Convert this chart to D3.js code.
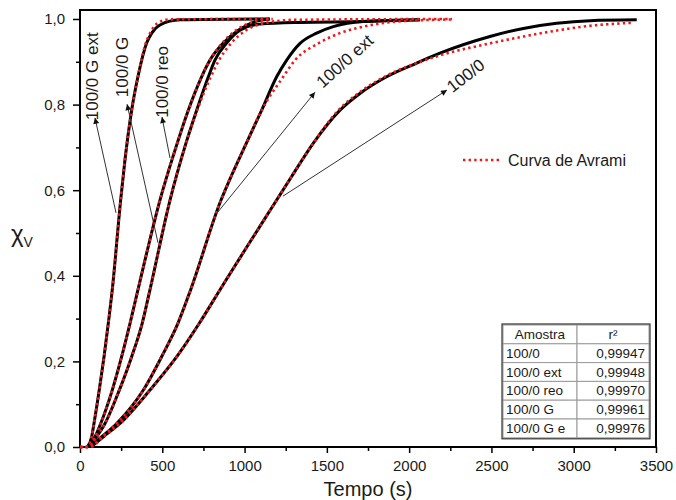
<!DOCTYPE html>
<html>
<head>
<meta charset="utf-8">
<script src="https://cdn.jsdelivr.net/npm/d3@7"></script>
<style>
  body { margin: 0; background: #fff; }
  text { font-family: Arial, "Liberation Sans", sans-serif; fill: #1a1a1a; }
</style>
</head>
<body>
<svg id="chart" width="676" height="500"></svg>
<script>
// Crystallised fraction vs time, measured curves (black) and Avrami fits (red)
const samples = ["100/0", "100/0 ext", "100/0 reo", "100/0 G", "100/0 G e"];
const r2 = ["0,99947", "0,99948", "0,99970", "0,99961", "0,99976"];

// measured curves: time (s) and fraction
const tGExt = [45, 71, 85, 117, 146, 172, 196, 247, 273, 314, 352, 405, 436, 486, 608, 1150];
const vGExt = [0, 0.024, 0.055, 0.133, 0.211, 0.289, 0.367, 0.577, 0.67, 0.787, 0.865, 0.944, 0.967, 0.986, 0.998, 1.0];
const tG = [50, 91, 126, 196, 253, 304, 352, 486, 591, 658, 739, 790, 871, 962, 1073, 1155];
const vG = [0, 0.024, 0.055, 0.133, 0.211, 0.289, 0.367, 0.577, 0.71, 0.787, 0.865, 0.904, 0.944, 0.974, 0.995, 1.0];
const tReo = [55, 101, 152, 239, 314, 378, 425, 547, 644, 709, 780, 820, 891, 972, 1094, 1337, 1720, 2066];
const vReo = [0, 0.024, 0.055, 0.133, 0.211, 0.289, 0.367, 0.577, 0.71, 0.787, 0.865, 0.904, 0.944, 0.974, 0.988, 0.992, 0.994, 0.998];
const tExt = [60, 132, 223, 385, 496, 595, 672, 857, 918, 1011, 1104, 1195, 1256, 1337, 1438, 1539, 1720, 2066];
const vExt = [0, 0.024, 0.055, 0.133, 0.211, 0.289, 0.367, 0.577, 0.632, 0.71, 0.787, 0.865, 0.904, 0.943, 0.967, 0.982, 0.994, 0.998];
const tBase = [65, 142, 243, 425, 588, 725, 850, 1195, 1286, 1418, 1580, 1701, 1863, 2046, 2187, 2491, 2694, 2897, 3099, 3383];
const vBase = [0, 0.024, 0.055, 0.133, 0.211, 0.289, 0.367, 0.577, 0.632, 0.71, 0.787, 0.826, 0.865, 0.897, 0.92, 0.959, 0.978, 0.99, 0.996, 0.998];

// Avrami fits
const tFitGExt = [0, 40, 71, 85, 117, 146, 172, 196, 247, 273, 314, 352, 400, 430, 470, 540, 1170];
const vFitGExt = [0, 0, 0.024, 0.055, 0.133, 0.211, 0.289, 0.367, 0.577, 0.67, 0.787, 0.865, 0.944, 0.97, 0.99, 0.999, 1.0];
const tFitG = [0, 45, 91, 126, 196, 253, 304, 352, 486, 591, 658, 739, 790, 865, 950, 1050, 1170];
const vFitG = [0, 0, 0.024, 0.055, 0.133, 0.211, 0.289, 0.367, 0.577, 0.71, 0.787, 0.865, 0.904, 0.944, 0.974, 0.993, 1.0];
const tFitReo = [0, 50, 101, 152, 239, 314, 378, 425, 547, 644, 712, 795, 845, 920, 1010, 1120, 1300, 2260];
const vFitReo = [0, 0, 0.024, 0.055, 0.133, 0.211, 0.289, 0.367, 0.577, 0.71, 0.787, 0.865, 0.904, 0.944, 0.974, 0.99, 0.998, 1.0];
const tFitExt = [0, 55, 132, 223, 385, 496, 595, 672, 857, 918, 1011, 1104, 1235, 1307, 1448, 1580, 1720, 1924, 2260];
const vFitExt = [0, 0, 0.024, 0.055, 0.133, 0.211, 0.289, 0.367, 0.577, 0.632, 0.71, 0.787, 0.865, 0.904, 0.943, 0.967, 0.982, 0.994, 0.999];
const tFitBase = [0, 60, 142, 243, 425, 588, 725, 850, 1195, 1286, 1418, 1570, 1690, 1850, 2046, 2187, 2491, 2694, 2897, 3099, 3352];
const vFitBase = [0, 0, 0.024, 0.055, 0.133, 0.211, 0.289, 0.367, 0.577, 0.632, 0.71, 0.787, 0.826, 0.865, 0.897, 0.915, 0.943, 0.959, 0.973, 0.984, 0.991];

const xTicks = [0, 500, 1000, 1500, 2000, 2500, 3000, 3500];
const yTicks = [0, 0.2, 0.4, 0.6, 0.8, 1.0];

// curve labels with arrows
const labels = ["100/0 G ext", "100/0 G", "100/0 reo", "100/0 ext", "100/0"];
const labelT = [76, 258, 501, 1610, 2345];
const labelV = [0.866, 0.888, 0.853, 0.901, 0.867];
const labelAngle = [-90, -90, -90, -42, -38];
const arrowTailT = [219, 474, 547, 838, 1233];
const arrowTailV = [0.547, 0.477, 0.675, 0.549, 0.586];
const arrowHeadT = [91, 286, 498, 1428, 2230];
const arrowHeadV = [0.769, 0.801, 0.771, 0.829, 0.834];

const svg = d3.select("#chart");
const L = 80, R = 656, T = 10, B = 447;
const x = d3.scaleLinear().domain([0, 3500]).range([L, R]);
const y = d3.scaleLinear().domain([0, 1.021]).range([B, T]);

const comma = d => d3.format(".1f")(d).replace(".", ",");

// axes
svg.append("g").attr("transform", `translate(0,${B})`)
  .call(d3.axisBottom(x).tickValues(xTicks).tickSize(6).tickPadding(7).tickFormat(d3.format("d")));
svg.append("g").attr("transform", `translate(0,${B})`)
  .call(d3.axisBottom(x).tickValues(d3.range(250, 3500, 500)).tickSize(4).tickFormat(""));
svg.append("g").attr("transform", `translate(${L},0)`)
  .call(d3.axisLeft(y).tickValues(yTicks).tickSize(7).tickPadding(8).tickFormat(comma));
svg.append("g").attr("transform", `translate(${L},0)`)
  .call(d3.axisLeft(y).tickValues([0.1, 0.3, 0.5, 0.7, 0.9]).tickSize(4).tickFormat(""));
svg.selectAll(".domain").remove();
svg.selectAll(".tick line").attr("stroke", "#000").attr("stroke-width", 1.5);
svg.selectAll(".tick text").style("font-size", "15px").attr("fill", "#1a1a1a");

// frame
svg.append("rect").attr("x", L).attr("y", T).attr("width", R - L).attr("height", B - T)
  .attr("fill", "none").attr("stroke", "#000").attr("stroke-width", 2);

// axis titles
svg.append("text").attr("x", (L + R) / 2).attr("y", 496).attr("text-anchor", "middle")
  .style("font-size", "20px").text("Tempo (s)");
const yt = svg.append("text").attr("x", 11).attr("y", 242).style("font-size", "24px");
yt.append("tspan").text("χ");
yt.append("tspan").attr("dy", 5).style("font-size", "14px").text("V");

// curves
const line = d3.line().x(d => x(d[0])).y(d => y(d[1])).curve(d3.curveMonotoneX);
const zip = (t, v) => t.map((d, i) => [d, v[i]]);
const measured = [zip(tBase, vBase), zip(tExt, vExt), zip(tReo, vReo), zip(tG, vG), zip(tGExt, vGExt)];
const fits = [zip(tFitBase, vFitBase), zip(tFitExt, vFitExt), zip(tFitReo, vFitReo), zip(tFitG, vFitG), zip(tFitGExt, vFitGExt)];

svg.append("g").selectAll("path").data(measured).join("path")
  .attr("d", line).attr("fill", "none").attr("stroke", "#000").attr("stroke-width", 3);
svg.append("g").selectAll("path").data(fits).join("path")
  .attr("d", line).attr("fill", "none").attr("stroke", "#f01818").attr("stroke-width", 2.6)
  .attr("stroke-dasharray", "2.4 3.2");

// arrows
svg.append("defs").append("marker").attr("id", "head")
  .attr("viewBox", "0 0 10 10").attr("refX", 10).attr("refY", 5)
  .attr("markerWidth", 10).attr("markerHeight", 6).attr("markerUnits", "userSpaceOnUse")
  .attr("orient", "auto")
  .append("path").attr("d", "M0,0 L10,5 L0,10 Z").attr("fill", "#111");

const ga = svg.append("g");
labels.forEach((lab, i) => {
  ga.append("line")
    .attr("x1", x(arrowTailT[i])).attr("y1", y(arrowTailV[i]))
    .attr("x2", x(arrowHeadT[i])).attr("y2", y(arrowHeadV[i]))
    .attr("stroke", "#333").attr("stroke-width", 1).attr("marker-end", "url(#head)");
  ga.append("text")
    .attr("transform", `translate(${x(labelT[i])},${y(labelV[i])}) rotate(${labelAngle[i]})`)
    .attr("text-anchor", "middle").attr("dominant-baseline", "central")
    .style("font-size", "17px").text(lab);
});

// legend
const lgY = 160;
svg.append("line").attr("x1", 463).attr("x2", 502).attr("y1", lgY).attr("y2", lgY)
  .attr("stroke", "#f01818").attr("stroke-width", 2.6).attr("stroke-dasharray", "2.4 3.2");
svg.append("text").attr("x", 508).attr("y", lgY + 6).style("font-size", "16px").text("Curva de Avrami");

// r² table
const tx0 = 503, tx1 = 577, tx2 = 649, ty0 = 325, rowH = 18.8;
const tg = svg.append("g");
const rows = [["Amostra", "r²"]].concat(samples.map((s, i) => [s, r2[i]]));
rows.forEach((r, i) => {
  const yy = ty0 + i * rowH;
  tg.append("rect").attr("x", tx0).attr("y", yy).attr("width", tx1 - tx0).attr("height", rowH)
    .attr("fill", "#fff").attr("stroke", "#9a9a9a").attr("stroke-width", 1);
  tg.append("rect").attr("x", tx1).attr("y", yy).attr("width", tx2 - tx1).attr("height", rowH)
    .attr("fill", "#fff").attr("stroke", "#9a9a9a").attr("stroke-width", 1);
  const head = i === 0;
  tg.append("text").attr("x", head ? (tx0 + tx1) / 2 : tx0 + 3).attr("y", yy + rowH / 2)
    .attr("text-anchor", head ? "middle" : "start").attr("dominant-baseline", "central")
    .style("font-size", "13.5px").text(r[0]);
  tg.append("text").attr("x", head ? (tx1 + tx2) / 2 : tx2 - 4).attr("y", yy + rowH / 2)
    .attr("text-anchor", head ? "middle" : "end").attr("dominant-baseline", "central")
    .style("font-size", "13.5px").text(r[1]);
});
tg.append("rect").attr("x", tx0 - 1).attr("y", ty0 - 1).attr("width", tx2 - tx0 + 2)
  .attr("height", rowH * rows.length + 2).attr("fill", "none").attr("stroke", "#333").attr("stroke-width", 1.2);
</script>
</body>
</html>
